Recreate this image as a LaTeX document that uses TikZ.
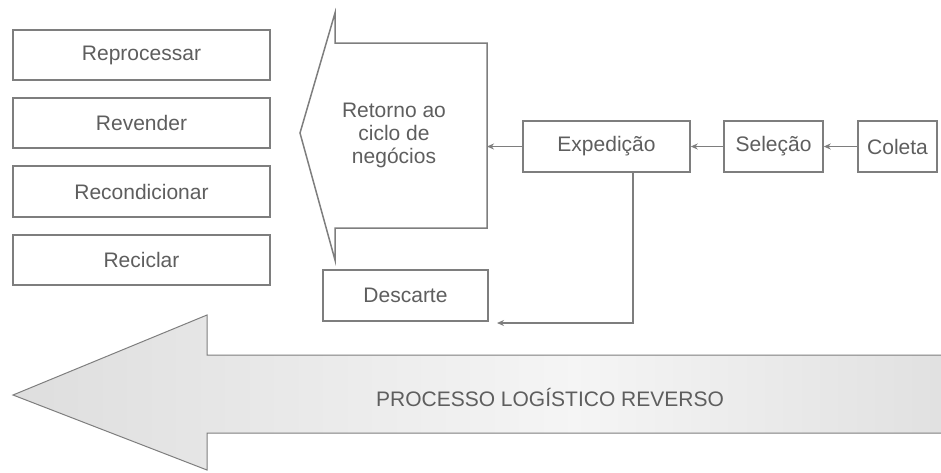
\documentclass[tikz,border=0pt]{standalone}
\usepackage{fontspec}
\setmainfont{Liberation Sans}
\usetikzlibrary{arrows.meta}
\definecolor{linegray}{HTML}{7E7E7E}
\definecolor{txtgray}{HTML}{5E5E5E}
\pgfdeclarehorizontalshading{bigshade}{100bp}{color(0bp)=(gray!45); color(25bp)=(gray!26); color(55bp)=(gray!8); color(80bp)=(gray!28); color(100bp)=(gray!38)}
\begin{document}
\begin{tikzpicture}[x=1pt,y=-1pt,
  box/.style={draw=linegray, line width=1.5pt, fill=white, inner sep=0pt, text=txtgray, font=\fontsize{21}{23}\selectfont},
  conn/.style={draw=linegray, line width=1.3pt, -{Stealth[length=7pt,width=6pt]}},
  lbl/.style={text=txtgray, font=\fontsize{21}{23}\selectfont, align=center, inner sep=0pt},
  shapeline/.style={draw=linegray, line width=1.5pt, line join=miter}]
\useasboundingbox (0,0) rectangle (941,472);

% big arrow
\path[shading=bigshade, draw=linegray, line width=1pt]
  (13,395) -- (207,315) -- (207,355) -- (950,355) -- (950,433) -- (207,433) -- (207,470) -- cycle;
\node[lbl] (plr) at (550,397) {PROCESSO LOGÍSTICO REVERSO};

% left boxes
\node[box, minimum width=257pt, minimum height=50pt] (rep) at (141.5,55) {Reprocessar};
\node[box, minimum width=257pt, minimum height=50pt] (rev) at (141.5,123) {Revender};
\node[box, minimum width=257pt, minimum height=51pt] (rec) at (141.5,191.5) {Recondicionar};
\node[box, minimum width=257pt, minimum height=50pt] (ric) at (141.5,260) {Reciclar};

% retorno shape
\draw[shapeline] (300,133) -- (335,13) -- (335,43) -- (487,43) -- (487,228) -- (335,228) -- (335,260) -- cycle;
\node[lbl] (ret) at (394,135) {Retorno ao\\ciclo de\\negócios};
\coordinate (retR) at (487,146.5);

% process boxes
\node[box, minimum width=167pt, minimum height=51pt] (exp) at (606.5,146.5) {Expedição};
\node[box, minimum width=99pt, minimum height=51pt] (sel) at (773.5,146.5) {Seleção};
\node[box, minimum width=79pt, minimum height=51pt] (col) at (897.5,146.5) {Coleta};
\node[box, minimum width=165pt, minimum height=51pt] (des) at (405.5,295.5) {Descarte};

% connectors
\draw[conn] (col.west) -- (sel.east);
\draw[conn] (sel.west) -- (exp.east);
\draw[conn] (exp.west) -- (retR);
\coordinate (drop) at (633,0);
\coordinate (dend) at (497,323);
\draw[conn] (exp.south -| drop) |- (dend);
\end{tikzpicture}
\end{document}
